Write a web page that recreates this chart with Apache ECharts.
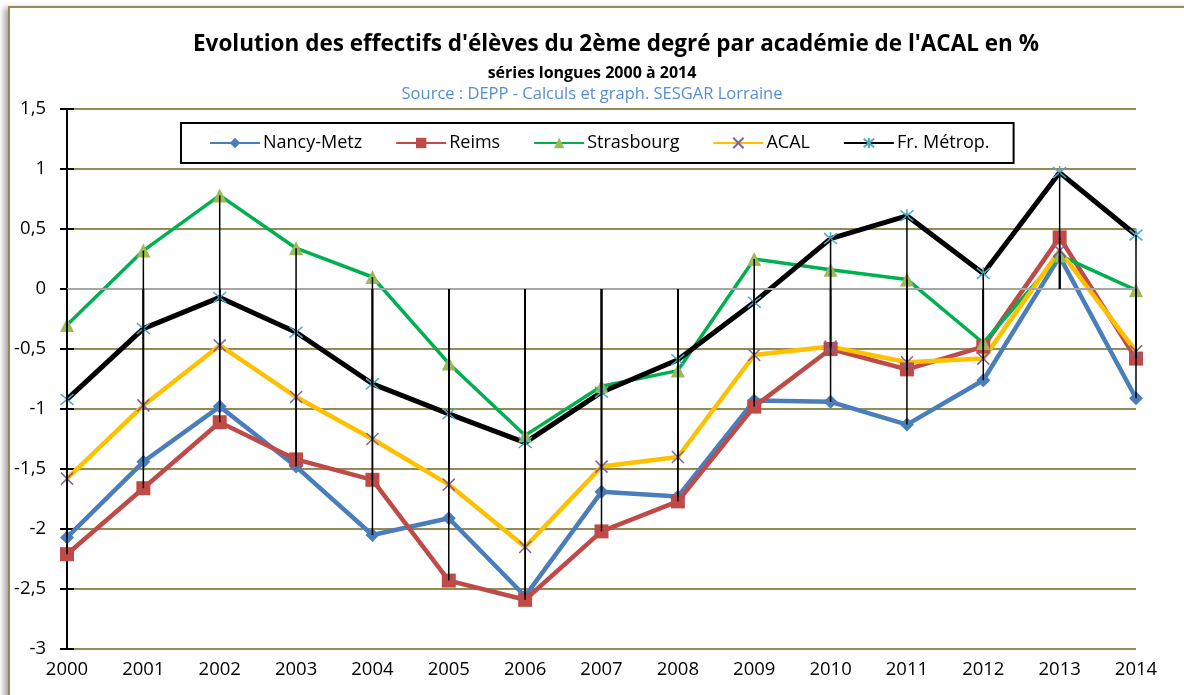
<!DOCTYPE html>
<html lang="fr">
<head>
    <meta charset="UTF-8">
    <title>Evolution des effectifs ACAL</title>
    <style>
        body{
            margin: 0;
            background: #ffffff;
        }
        .frame{
            position: absolute;
            left: 8px;
            top: 6px;
            width: 1200px;
            height: 720px;
            border: 2px solid #948a54;
            box-shadow: -4px 2px 6px rgba(0, 0, 0, .35);
            pointer-events: none;
        }
        #chart{
            position: absolute;
            left: 0;
            top: 0;
            width: 1184px;
            height: 695px;
        }
    </style>
</head>
<body>
    <div class="frame"></div>
    <div id="chart"></div>

    <script src="https://cdn.jsdelivr.net/npm/echarts@6/dist/echarts.min.js"></script>
    <script>
        let years = ['2000','2001','2002','2003','2004','2005','2006','2007','2008','2009','2010','2011','2012','2013','2014']
        let nancyMetz = [-2.07,-1.44,-0.98,-1.48,-2.05,-1.91,-2.56,-1.69,-1.73,-0.93,-0.94,-1.13,-0.76,0.27,-0.91]
        let reims = [-2.21,-1.66,-1.11,-1.42,-1.59,-2.43,-2.59,-2.02,-1.77,-0.98,-0.50,-0.67,-0.48,0.43,-0.58]
        let strasbourg = [-0.30,0.32,0.78,0.34,0.10,-0.62,-1.22,-0.81,-0.68,0.25,0.16,0.08,-0.45,0.28,-0.01]
        let acal = [-1.58,-0.97,-0.47,-0.90,-1.25,-1.63,-2.15,-1.48,-1.40,-0.55,-0.48,-0.61,-0.58,0.32,-0.52]
        let frMetrop = [-0.92,-0.33,-0.07,-0.36,-0.79,-1.04,-1.28,-0.86,-0.59,-0.11,0.42,0.61,0.13,0.97,0.45]

        let font = 'Open Sans'
        let chart = echarts.init(document.getElementById('chart'))

        // lignes de projection : chaque point relié à 0
        let dropData = []
        ;[nancyMetz, reims, strasbourg, acal, frMetrop].forEach(s => {
            s.forEach((v, i) => dropData.push([i, v]))
        })

        function lineSerie(name, data, lineColor, symbol, symbolSize, markColor, stroke, width){
            return {
                name: name,
                type: 'line',
                data: data,
                symbol: symbol,
                symbolSize: symbolSize,
                showAllSymbol: true,
                lineStyle: { color: lineColor, width: width },
                itemStyle: {
                    color: stroke ? 'transparent' : markColor,
                    borderColor: markColor,
                    borderWidth: stroke ? 1.5 : 0
                },
                emphasis: { disabled: true },
                z: 3
            }
        }

        let xPath = 'path://M0,0L10,10M10,0L0,10'
        let starPath = 'path://M0,0L10,10M10,0L0,10M5,-1L5,11'

        let option = {
            animation: false,
            textStyle: { fontFamily: font },
            title: [
                {
                    text: "Evolution des effectifs d'élèves du 2ème degré par académie de l'ACAL en %",
                    left: 188, top: 28,
                    textStyle: { fontFamily: font, fontSize: 22.5, fontWeight: 'bold', color: '#000' }
                },
                {
                    text: 'séries longues 2000 à 2014',
                    left: 'center', top: 60,
                    textStyle: { fontFamily: font, fontSize: 16, fontWeight: 'bold', color: '#000' }
                },
                {
                    text: 'Source : DEPP - Calculs et graph. SESGAR Lorraine',
                    left: 'center', top: 81,
                    textStyle: { fontFamily: font, fontSize: 16.5, fontWeight: 'normal', color: '#558ed5' }
                }
            ],
            legend: {
                left: 181, top: 123,
                padding: [11, 24, 11, 28],
                itemGap: 33,
                itemWidth: 50,
                itemHeight: 13,
                borderColor: '#000',
                borderWidth: 2,
                backgroundColor: '#fff',
                textStyle: { fontFamily: font, fontSize: 18, color: '#000', padding: [0, 0, 0, -2] },
                data: ['Nancy-Metz','Reims','Strasbourg','ACAL','Fr. Métrop.']
            },
            grid: { left: 67, right: 48, top: 109, bottom: 46 },
            xAxis: {
                type: 'category',
                data: years,
                boundaryGap: false,
                axisLine: { show: false },
                axisTick: { show: false },
                axisLabel: { fontFamily: font, fontSize: 18.5, color: '#000', margin: 11 }
            },
            yAxis: [
                {
                    type: 'value',
                    min: -3, max: 1.5, interval: 0.5,
                    axisLine: { show: true, lineStyle: { color: '#000', width: 2 } },
                    axisTick: { show: true, length: 7, lineStyle: { color: '#000', width: 2 } },
                    axisLabel: {
                        fontFamily: font, fontSize: 18.5, color: '#000', margin: 21,
                        formatter: v => String(v).replace('.', ',')
                    },
                    splitLine: { show: true, lineStyle: { color: '#948a54', width: 2 } }
                },
                {
                    type: 'value',
                    position: 'left',
                    min: -3, max: 1.5, interval: 0.5,
                    axisLine: { show: false },
                    axisTick: { show: true, inside: true, length: 7, lineStyle: { color: '#000', width: 2 } },
                    axisLabel: { show: false },
                    splitLine: { show: false }
                }
            ],
            series: [
                lineSerie('Nancy-Metz', nancyMetz, '#4a7ebb', 'diamond', 14, '#4a7ebb', false, 4.5),
                lineSerie('Reims', reims, '#be4b48', 'rect', 14, '#be4b48', false, 4.5),
                lineSerie('Strasbourg', strasbourg, '#00b050', 'triangle', 14, '#9bbb59', false, 3.5),
                lineSerie('ACAL', acal, '#ffc000', xPath, 12, '#8064a2', true, 4.5),
                lineSerie('Fr. Métrop.', frMetrop, '#000000', starPath, 13, '#4bacc6', true, 5),
                {
                    name: 'zero',
                    type: 'line',
                    data: [],
                    markLine: {
                        silent: true,
                        symbol: 'none',
                        label: { show: false },
                        lineStyle: { color: '#a6a6a6', width: 2, type: 'solid' },
                        data: [{ yAxis: 0 }]
                    },
                    z: 2
                },
                {
                    name: 'drop',
                    type: 'custom',
                    data: dropData,
                    silent: true,
                    z: 5,
                    renderItem: function(params, api){
                        let p1 = api.coord([api.value(0), api.value(1)])
                        let p0 = api.coord([api.value(0), 0])
                        return {
                            type: 'line',
                            shape: { x1: p1[0], y1: p1[1], x2: p0[0], y2: p0[1] },
                            style: { stroke: '#000', lineWidth: 1.5 }
                        }
                    }
                }
            ]
        }
        chart.setOption(option)
    </script>
</body>
</html>
